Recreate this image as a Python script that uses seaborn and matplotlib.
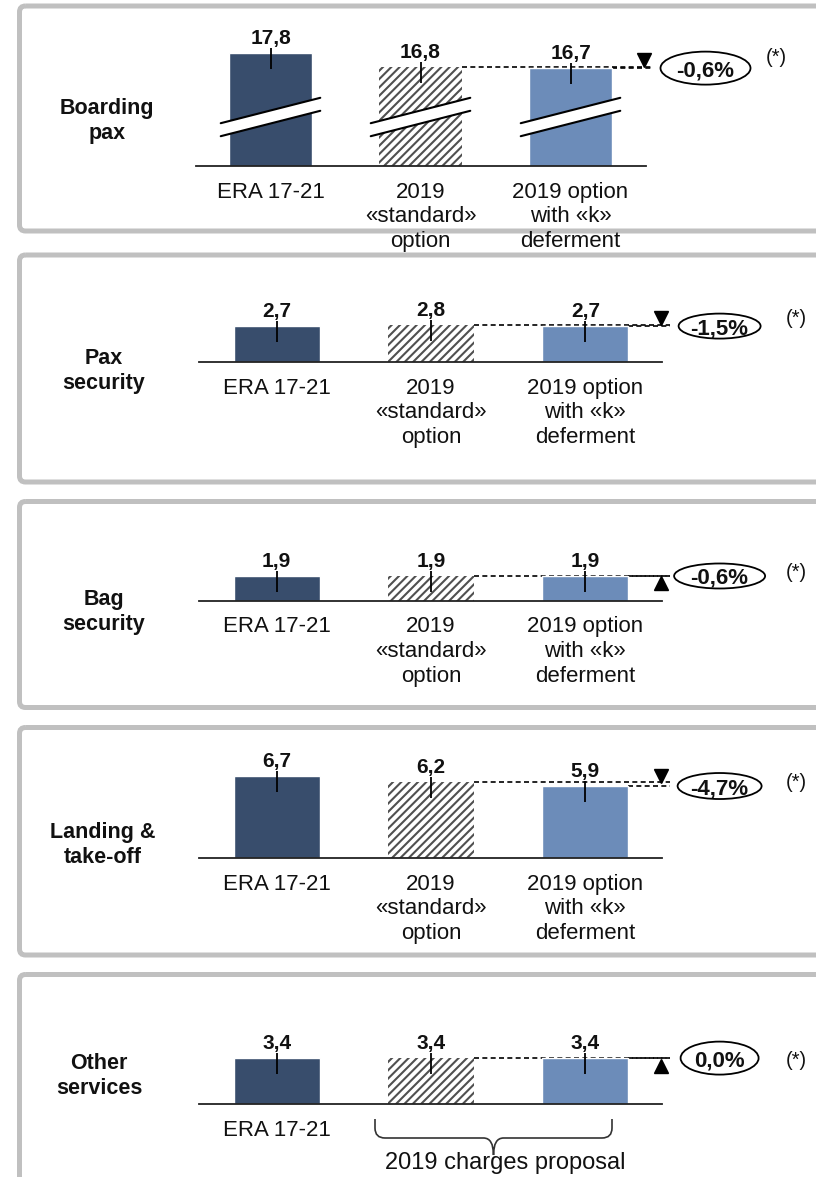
import matplotlib
matplotlib.use("Agg")
import matplotlib.pyplot as plt
import pandas as pd
import seaborn as sns
from matplotlib.patches import FancyBboxPatch, Ellipse, Polygon, PathPatch
from matplotlib.path import Path
from matplotlib.transforms import Affine2D

# ---- data -------------------------------------------------------------
categories = ["ERA 17-21", "2019 «standard» option", "2019 option with «k» deferment"]
tick_labels = ["ERA 17-21", "2019\n«standard»\noption", "2019 option\nwith «k»\ndeferment"]
services = ["Boarding\npax", "Pax\nsecurity", "Bag\nsecurity", "Landing &\ntake-off", "Other\nservices"]

boarding_pax = [17.8, 16.8, 16.7]
pax_security = [2.7, 2.8, 2.7]
bag_security = [1.9, 1.9, 1.9]
landing_takeoff = [6.7, 6.2, 5.9]
other_services = [3.4, 3.4, 3.4]

change_labels = ["-0,6%", "-1,5%", "-0,6%", "-4,7%", "0,0%"]
change_direction = ["down", "down", "up", "down", "up"]
proposal_label = "2019 charges proposal"
footnote = "(*)"

# ---- style ------------------------------------------------------------
sns.set_theme(style="white")
plt.rcParams["font.family"] = ["Liberation Sans", "DejaVu Sans"]
plt.rcParams["hatch.linewidth"] = 1.5

DARK = "#384d6c"
LIGHT = "#6c8cb9"
HATCH = "#505050"
FRAME = "#c0c0c0"
TEXT = "#111111"
bar_colors = [DARK, "white", LIGHT]
BAR_W = 0.557

W, H, DPI = 816, 1177, 100
fig = plt.figure(figsize=(W / DPI, H / DPI), dpi=DPI, facecolor="white")
# pixel coordinates measured from the top-left corner
px = Affine2D().scale(1 / W, -1 / H).translate(0, 1) + fig.transFigure

panel_values = [boarding_pax, pax_security, bag_security, landing_takeoff, other_services]
layout = [
    dict(box=(6, 231), x0=195.5, x1=645.5, base=165.7, ppu=14.0, ymin=9.73,
         ell=(90, 33), star_dy=11, name_xy=(107, 121)),
    dict(box=(255, 482), x0=199.5, x1=662.5, base=362, ppu=13.3, ymin=0.0,
         ell=(82, 25), star_dy=8, name_xy=(104, 371)),
    dict(box=(501.5, 707.5), x0=199.5, x1=662.5, base=600.5, ppu=12.9, ymin=0.0,
         ell=(91, 25), star_dy=3, name_xy=(104, 612)),
    dict(box=(727.5, 955), x0=199.5, x1=662.5, base=858, ppu=12.2, ymin=0.0,
         ell=(84, 26), star_dy=4, name_xy=(103, 845)),
    dict(box=(974.5, 1240), x0=199.5, x1=662.5, base=1104, ppu=13.5, ymin=0.0,
         ell=(78, 33), star_dy=-2, name_xy=(99, 1076)),
]

AX_H = 130  # axes height in pixels above the baseline

for k, (vals, lay) in enumerate(zip(panel_values, layout)):
    top, bottom = lay["box"]
    frame = FancyBboxPatch((19.5, top), 840, bottom - top,
                           boxstyle="round,pad=0,rounding_size=6",
                           transform=px, facecolor="none", edgecolor=FRAME,
                           linewidth=3.6, zorder=-5)
    fig.add_artist(frame)

    fig.text(*lay["name_xy"], services[k], transform=px, ha="center", va="center",
             fontsize=15.5, fontweight="bold", linespacing=1.2, color=TEXT)

    x0, x1, base, ppu, ymin = lay["x0"], lay["x1"], lay["base"], lay["ppu"], lay["ymin"]
    ax = fig.add_axes([x0 / W, 1 - base / H, (x1 - x0) / W, AX_H / H])
    ax.patch.set_visible(False)
    xs = (x1 - x0) / 3.0  # pixels per category step

    def dx(p):
        return p / xs

    def dy(p):
        return p / ppu

    df = pd.DataFrame({"option": categories, "value": vals})
    sns.barplot(data=df, x="option", y="value", hue="option", order=categories,
                hue_order=categories, palette=bar_colors, width=BAR_W, saturation=1,
                errorbar=None, legend=False, ax=ax, zorder=2)
    hp = ax.patches[1]
    hp.set_facecolor("white")
    hp.set_edgecolor(HATCH)
    hp.set_linewidth(0)
    hp.set_hatch("////")

    ax.set_xlim(-0.5, 2.5)
    ax.set_ylim(ymin, ymin + AX_H / ppu)
    ax.set_xlabel("")
    ax.set_ylabel("")
    ax.set_yticks([])
    sns.despine(ax=ax, left=True)
    ax.spines["bottom"].set_color("#222222")
    ax.spines["bottom"].set_linewidth(1.3)

    labels = tick_labels if k < 4 else ["ERA 17-21", "", ""]
    ax.set_xticks([0, 1, 2], labels)
    ax.tick_params(axis="x", length=0, pad=11.5)
    for t in ax.get_xticklabels():
        t.set_fontsize(16)
        t.set_linespacing(1.22)
        t.set_color(TEXT)

    hw = BAR_W / 2
    for i, v in enumerate(vals):
        ax.annotate(f"{v:.1f}".replace(".", ","), (i, v), xytext=(0, 6.5),
                    textcoords="offset points", ha="center", va="baseline",
                    fontsize=15, fontweight="bold", color=TEXT,
                    annotation_clip=False)
        ax.plot([i, i], [v + dy(5), v - dy(16)], color="black", lw=1.3,
                zorder=4, clip_on=False, solid_capstyle="butt")

    # axis break across the bars of the first panel
    if k == 0:
        yc = ymin + dy(base - 117)
        slope = (25 / ppu) / (98 / xs)
        half = dy(6.5)
        for i in range(3):
            xl, xr = i - hw - dx(8), i + hw + dx(8)
            yl, yr = yc + slope * (xl - i), yc + slope * (xr - i)
            band = Polygon([(xl, yl - half), (xr, yr - half), (xr, yr + half), (xl, yl + half)],
                           closed=True, facecolor="white", edgecolor="none", zorder=5)
            ax.add_patch(band)
            for s in (-half, half):
                ax.plot([xl, xr], [yl + s, yr + s], color="black", lw=1.5, zorder=6)

    # comparison between the two 2019 options
    v1, v2 = vals[1], vals[2]
    x_end = 2.55
    dash = (0, (3, 2))
    ax.plot([1 + hw, x_end], [v1, v1], color="black", lw=1.2, ls=dash,
            clip_on=False, zorder=1)
    ax.plot([2 + hw, x_end], [v2, v2], color="black", lw=1.2, ls=dash,
            clip_on=False, zorder=1)
    if change_direction[k] == "down":
        ax.plot([2.49], [v1 + dy(6.5)], marker="v", ms=10, color="black",
                clip_on=False, zorder=6)
    else:
        ax.plot([2.49], [v1 - dy(7.5)], marker="^", ms=10, color="black",
                clip_on=False, zorder=6)

    x_ell = 2.9 if k == 0 else 2.87
    ew, eh = lay["ell"]
    ell = Ellipse((x_ell, v2), width=dx(ew), height=dy(eh), fill=False,
                  edgecolor="black", lw=1.3, zorder=6)
    ax.add_patch(ell)
    ell.set_clip_on(False)
    ax.text(x_ell, v2, change_labels[k], ha="center", va="center_baseline",
            fontsize=16, fontweight="bold", color=TEXT, clip_on=False, zorder=7)
    ax.text(3.37, v2 + dy(lay["star_dy"]), footnote, ha="center", va="center",
            fontsize=14.5, color=TEXT, clip_on=False)

# brace grouping the two 2019 options in the last panel
xl, xr, yt, ym, yb, r = 375, 612, 1119, 1138, 1155, 10
xc = (xl + xr) / 2
verts = [(xl, yt), (xl, ym - r), (xl, ym), (xl + r, ym), (xc - r, ym), (xc, ym), (xc, yb),
         (xc, ym), (xc + r, ym), (xr - r, ym), (xr, ym), (xr, ym - r), (xr, yt)]
codes = [Path.MOVETO, Path.LINETO, Path.CURVE3, Path.CURVE3, Path.LINETO, Path.CURVE3,
         Path.CURVE3, Path.CURVE3, Path.CURVE3, Path.LINETO, Path.CURVE3, Path.CURVE3,
         Path.LINETO]
fig.add_artist(PathPatch(Path(verts, codes), transform=px, facecolor="none",
                         edgecolor="#333333", lw=1.2))
fig.text(505, 1163, proposal_label, transform=px, ha="center", va="center",
         fontsize=17, color=TEXT)

fig.savefig("out.png", dpi=DPI, facecolor="white")
